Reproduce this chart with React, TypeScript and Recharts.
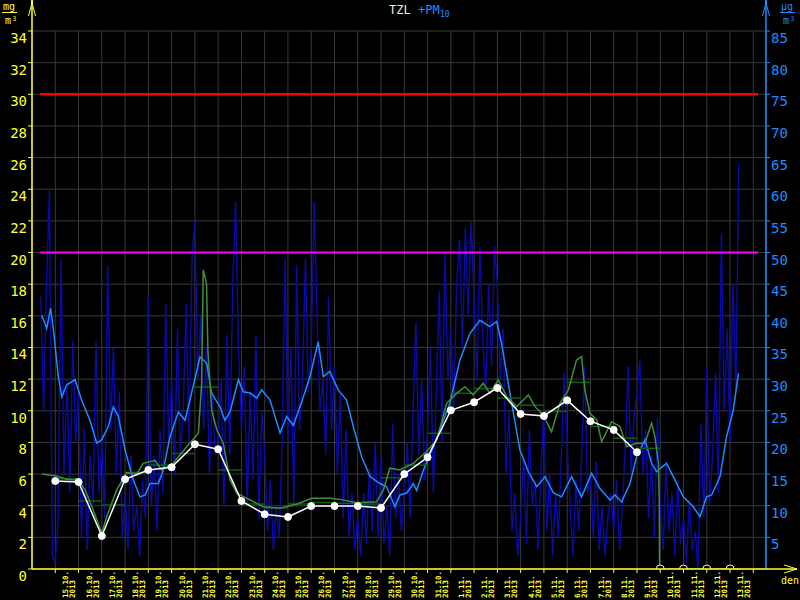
import { CartesianGrid, ComposedChart, Line, ReferenceLine, XAxis, YAxis } from 'recharts'

// day index d: 0 = 14.10.2013 00:00
const dayLabels = [
  '15.10.', '16.10.', '17.10.', '18.10.', '19.10.', '20.10.', '21.10.', '22.10.', '23.10.', '24.10.',
  '25.10.', '26.10.', '27.10.', '28.10.', '29.10.', '30.10.', '31.10.', '1.11.', '2.11.', '3.11.',
  '4.11.', '5.11.', '6.11.', '7.11.', '8.11.', '9.11.', '10.11.', '11.11.', '12.11.', '13.11.'
]
const yearLabel = '2013'

// TZL daily means (mg/m3), days 15.10. - 9.11.
const tzlDaily = [
  5.56, 5.5, 2.09, 5.67, 6.26, 6.43, 7.88, 7.57, 4.3, 3.46, 3.29, 3.98, 3.98,
  3.98, 3.86, 6.0, 7.06, 10.03, 10.54, 11.44, 9.8, 9.67, 10.66, 9.34, 8.79, 7.38
]
// days without data (10.11. - 13.11.)
const missingDays = [27, 28, 29, 30]

// daily mean bars of the running TZL line
const tzlDayBars = [
  5.7, 4.3, 4.05, 6.1, 6.57, 7.3, 11.5, 6.26, 4.1, 3.87, 4.1, 4.2, 4.15,
  4.1, 5.77, 6.57, 8.58, 11.1, 11.4, 10.8, 10.35, 9.97, 11.8, 9.0, 8.26, 7.63
]

// TZL running values (mg/m3)
const tzlTimes = [
  0.42, 1.0, 1.49, 2.0, 2.28, 2.63, 3.0, 3.21, 3.64, 4.07, 4.5, 4.78, 5.29, 5.57, 6.07, 6.65,
  7.15, 7.29, 7.36, 7.5, 7.56, 7.72, 7.94, 8.22, 8.51, 8.8, 9.37, 9.94, 10.66, 11.37, 12.02,
  12.8, 13.24, 13.95, 14.81, 15.1, 15.38, 15.81, 16.39, 16.96, 17.39, 17.82, 18.25, 18.61,
  18.96, 19.39, 19.68, 20.04, 20.4, 20.83, 21.33, 21.62, 21.97, 22.33, 22.69, 23.05, 23.4,
  23.62, 23.76, 23.98, 24.27, 24.48, 24.91, 25.27, 25.55, 25.98, 26.34, 26.63, 26.77, 26.92,
  26.96, 26.97, 30.43
]
const tzlValues = [
  6.0, 5.9, 5.67, 5.6, 5.0, 3.73, 2.27, 3.3, 5.0, 6.09, 6.0, 6.68, 6.85, 6.26, 6.68, 7.73,
  8.58, 11.7, 18.9, 18.06, 13.8, 10.05, 8.8, 7.95, 5.63, 4.79, 4.36, 3.94, 3.84, 4.09, 4.47,
  4.47, 4.4, 4.19, 4.25, 5.0, 6.37, 6.26, 6.68, 7.42, 8.15, 10.47, 11.1, 11.52,
  11.0, 11.74, 11.1, 11.95, 10.89, 10.26, 11.0, 10.26, 9.73, 8.68, 10.47, 11.31, 13.2,
  13.42, 11.3, 9.84, 9.42, 8.05, 9.31, 9.0, 7.73, 7.95, 7.95, 9.21, 8.36, 6.68,
  4.15, 0, 0
]

// PM10 running average (ug/m3)
const pmAvgTimes = [
  0.42, 0.63, 0.8, 0.92, 1.13, 1.28, 1.49, 1.85, 2.13, 2.49, 2.78, 2.99, 3.28, 3.49, 3.71, 4.0,
  4.35, 4.64, 4.86, 5.07, 5.43, 5.64, 5.93, 6.29, 6.58, 6.86, 7.22, 7.51, 7.72, 8.08, 8.29,
  8.51, 8.87, 9.08, 9.37, 9.66, 9.87, 10.23, 10.66, 10.94, 11.23, 11.59, 11.95, 12.3, 12.52,
  12.8, 13.16, 13.52, 13.81, 14.17, 14.53, 14.95, 15.24, 15.6, 15.81, 16.1, 16.39, 16.53,
  16.82, 17.25, 17.68, 17.96, 18.39, 18.82, 19.25, 19.68, 19.97, 20.18, 20.54, 20.97, 21.33,
  21.69, 22.05, 22.41, 22.76, 23.19, 23.62, 24.05, 24.41, 24.84, 25.05, 25.34, 25.7, 25.98,
  26.34, 26.63, 26.84, 27.27, 27.56, 27.99, 28.42, 28.71, 28.99, 29.21, 29.57, 29.85, 30.14,
  30.36
]
const pmAvgValues = [
  40.1, 38.0, 41.2, 37.8, 30.4, 27.2, 29.1, 29.9, 26.7, 23.5, 19.9, 20.4, 22.5, 25.6, 24.1, 18.8,
  14.1, 11.4, 11.7, 13.5, 13.5, 15.6, 20.9, 24.8, 23.5, 27.8, 33.5, 32.5, 27.8, 25.6, 23.5,
  24.8, 29.9, 28.0, 27.8, 27.0, 28.3, 26.7, 21.5, 24.1, 22.7, 26.4, 30.4, 35.9, 30.4,
  31.2, 28.3, 26.7, 22.5, 17.7, 14.6, 13.5, 13.0, 9.84, 11.7, 12.0, 13.5, 12.4,
  15.6, 19.3, 23.5, 26.2, 33.0, 37.2, 39.3, 38.3, 39.1, 35.7, 27.8, 18.8, 15.4,
  13.0, 14.6, 12.0, 11.4, 14.6, 11.4, 15.1, 12.7, 10.9, 11.7, 10.6, 13.5, 17.7,
  20.4, 16.7, 15.4, 16.7, 14.6, 11.4, 9.84, 8.26, 11.4, 11.7, 14.6, 20.9, 25.1,
  30.9
]

// PM10 hourly readings (ug/m3), every 3 hours from d = 0.375
const pmStart = 0.375
const pmStep = 0.125
const pmHourly = [
  43, 25, 45, 60, 2,
  1, 8, 49, 15, 30, 12, 36, 20,
  28, 5, 22, 3, 18, 10, 36, 12,
  20, 8, 48, 22, 35, 15, 28, 5,
  12, 3, 18, 6, 10, 2, 14, 8,
  43, 10, 18, 6, 22, 12, 42, 20,
  30, 15, 38, 18, 25, 42, 20, 49,
  55, 30, 40, 22, 35, 15, 28, 18,
  20, 30, 10, 37, 18, 45, 58, 35,
  22, 32, 10, 28, 14, 37, 8, 25,
  18, 6, 14, 3, 10, 5, 20, 49,
  20, 35, 10, 48, 22, 30, 49, 28,
  35, 58, 40, 25, 30, 18, 43, 22,
  32, 15, 28, 8, 22, 5, 12, 3,
  8, 2, 12, 4, 16, 6, 20, 5,
  18, 4, 10, 2, 23, 8, 15, 6,
  12, 20, 8, 25, 39, 18, 30, 14,
  22, 35, 12, 28, 44, 20, 50, 30,
  38, 25, 45, 52, 35, 54, 40, 55,
  42, 30, 51, 36, 28, 45, 32, 51,
  45, 30, 38, 15, 25, 6, 12, 2,
  8, 18, 4, 22, 10, 14, 3, 16,
  25, 6, 15, 2, 12, 5, 18, 31,
  20, 10, 2, 14, 6, 18, 32, 12,
  15, 5, 17, 3, 10, 2, 8, 12,
  6, 14, 3, 10, 20, 32, 15, 24,
  28, 33, 15, 22, 8, 18, 5, 24,
  10, 3, 17, 6, 12, 2, 14, 4,
  8, 1, 11, 3, 6, 0, 23, 8,
  32, 10, 18, 31, 12, 53, 25, 38,
  20, 45, 28, 64
]

const leftTicks = [0, 2, 4, 6, 8, 10, 12, 14, 16, 18, 20, 22, 24, 26, 28, 30, 32, 34]
const rightTicks = [5, 10, 15, 20, 25, 30, 35, 40, 45, 50, 55, 60, 65, 70, 75, 80, 85]
const dayTicks = Array.from({ length: 31 }, (_, i) => i + 1)

const pmHourlyData = pmHourly.map((v, i) => ({ d: pmStart + i * pmStep, v }))
const pmAvgData = pmAvgTimes.map((d, i) => ({ d, v: pmAvgValues[i] }))
const tzlData = tzlTimes.map((d, i) => ({ d, v: tzlValues[i] }))
const dailyData = tzlDaily.map((v, i) => ({ d: i + 1, v }))
const missingData = missingDays.map((d) => ({ d, v: 0 }))
const barData = tzlDayBars.flatMap((v, i) => [
  { d: i + 1, v },
  { d: i + 2, v },
  { d: i + 2, v: null }
])

const YELLOW = '#ffff33'
const BLUE = '#1e8cff'
const MONO = '"DejaVu Sans Mono", monospace'
const HALF_DAY = 11.63

function LeftTick(props: any) {
  const { y, payload } = props
  return (
    <text x={27} y={y + 12} textAnchor="end" fill={YELLOW} fontSize={14} fontFamily={MONO}>
      {payload.value}
    </text>
  )
}

function RightTick(props: any) {
  const { y, payload } = props
  return (
    <text x={771} y={y + 12} textAnchor="start" fill={BLUE} fontSize={14} fontFamily={MONO}>
      {payload.value}
    </text>
  )
}

function DayTick(props: any) {
  const { x, payload } = props
  const label = dayLabels[payload.value - 1]
  if (!label) return <g />
  const cx = x + HALF_DAY
  return (
    <text
      transform={`translate(${cx}, 598) rotate(-90)`}
      fill={YELLOW}
      fontSize={7.5}
      fontFamily={MONO}
      fontWeight="bold"
    >
      <tspan x={0} y={1.5}>{label}</tspan>
      <tspan x={0} y={8.5}>{yearLabel}</tspan>
    </text>
  )
}

function Unit({ x, top, color }: { x: number; top: string; color: string }) {
  return (
    <g fill={color} fontFamily={MONO}>
      <text x={x + 7} y={10} textAnchor="middle" fontSize={10}>{top}</text>
      <line x1={x} y1={12.5} x2={x + 15} y2={12.5} stroke={color} strokeWidth={1} />
      <text x={x + 6} y={24} textAnchor="middle" fontSize={10}>m</text>
      <text x={x + 10.5} y={20.5} fontSize={6.5}>3</text>
    </g>
  )
}

function Overlay() {
  return (
    <svg
      width={800}
      height={600}
      style={{ position: 'absolute', left: 0, top: 0, pointerEvents: 'none' }}
    >
      {/* title */}
      <text x={389} y={14} fill="#e8e8e8" fontSize={12} fontFamily={MONO}>TZL</text>
      <text x={418} y={14} fill={BLUE} fontSize={12} fontFamily={MONO}>+PM</text>
      <text x={440} y={17} fill={BLUE} fontSize={8} fontFamily={MONO}>10</text>

      {/* left axis */}
      <line x1={32} y1={2} x2={32} y2={569} stroke={YELLOW} strokeWidth={1.5} />
      <rect x={31} y={0} width={2} height={5} fill={YELLOW} />
      <polyline points="28.5,16 32,3 35.5,16" fill="none" stroke={YELLOW} strokeWidth={1} />
      <Unit x={2} top="mg" color={YELLOW} />

      {/* right axis */}
      <line x1={766} y1={2} x2={766} y2={569} stroke={BLUE} strokeWidth={1.5} />
      <rect x={765} y={0} width={2} height={5} fill={BLUE} />
      <polyline points="762.5,16 766,3 769.5,16" fill="none" stroke={BLUE} strokeWidth={1} />
      <Unit x={780} top="µg" color={BLUE} />

      {/* x axis */}
      <line x1={32} y1={569} x2={797} y2={569} stroke={YELLOW} strokeWidth={1.5} />
      <polyline points="784,565 797,569 784,573" fill="none" stroke={YELLOW} strokeWidth={1} />
      <text x={790} y={584} textAnchor="middle" fill={YELLOW} fontSize={10} fontFamily={MONO}>den</text>
    </svg>
  )
}

export default function App() {
  return (
    <div
      style={{
        position: 'fixed',
        left: 0,
        top: 0,
        width: 800,
        height: 600,
        background: '#000'
      }}
    >
      <ComposedChart width={800} height={600} margin={{ top: 31, right: 0, bottom: 0, left: 0 }}>
        <CartesianGrid yAxisId="left" stroke="#3a3a3a" strokeWidth={1} />
        <XAxis
          dataKey="d"
          type="number"
          domain={[0, 31.545]}
          allowDataOverflow
          ticks={dayTicks}
          interval={0}
          height={31}
          axisLine={false}
          tickLine={{ stroke: YELLOW }}
          tickSize={4}
          tick={<DayTick />}
        />
        <YAxis
          yAxisId="left"
          orientation="left"
          domain={[0, 34]}
          allowDataOverflow
          ticks={leftTicks}
          interval={0}
          width={32}
          axisLine={false}
          tickLine={{ stroke: YELLOW }}
          tickSize={4}
          tick={<LeftTick />}
        />
        <YAxis
          yAxisId="right"
          orientation="right"
          domain={[0, 85]}
          allowDataOverflow
          ticks={rightTicks}
          interval={0}
          width={34}
          axisLine={false}
          tickLine={{ stroke: BLUE }}
          tickSize={4}
          tick={<RightTick />}
        />

        <Line
          yAxisId="right"
          data={pmHourlyData}
          dataKey="v"
          type="linear"
          stroke="#0a0aa8"
          strokeWidth={1.4}
          dot={false}
          activeDot={false}
          isAnimationActive={false}
        />
        <ReferenceLine
          yAxisId="left"
          segment={[{ x: 0.35, y: 20 }, { x: 31.2, y: 20 }]}
          stroke="#ff00ff"
          strokeWidth={2}
        />
        <ReferenceLine
          yAxisId="left"
          segment={[{ x: 0.35, y: 30 }, { x: 31.2, y: 30 }]}
          stroke="#ff0000"
          strokeWidth={2.5}
        />
        <Line
          yAxisId="right"
          data={pmAvgData}
          dataKey="v"
          type="linear"
          stroke={BLUE}
          strokeWidth={1.5}
          dot={false}
          activeDot={false}
          isAnimationActive={false}
        />
        <Line
          yAxisId="left"
          data={barData}
          dataKey="v"
          type="linear"
          stroke="#0d5e0d"
          strokeWidth={1.5}
          dot={false}
          activeDot={false}
          connectNulls={false}
          isAnimationActive={false}
        />
        <Line
          yAxisId="left"
          data={tzlData}
          dataKey="v"
          type="linear"
          stroke="#3f8f3a"
          strokeWidth={1.5}
          dot={false}
          activeDot={false}
          isAnimationActive={false}
        />
        <Line
          yAxisId="left"
          data={dailyData}
          dataKey="v"
          type="linear"
          stroke="#ffffff"
          strokeWidth={1.5}
          dot={{ r: 3.5, fill: '#ffffff', stroke: '#ffffff', strokeWidth: 1 }}
          activeDot={false}
          isAnimationActive={false}
        />
        <Line
          yAxisId="left"
          data={missingData}
          dataKey="v"
          stroke="none"
          dot={{ r: 4, fill: '#000000', stroke: '#ffffaa', strokeWidth: 1 }}
          activeDot={false}
          isAnimationActive={false}
        />
      </ComposedChart>
      <Overlay />
    </div>
  )
}
